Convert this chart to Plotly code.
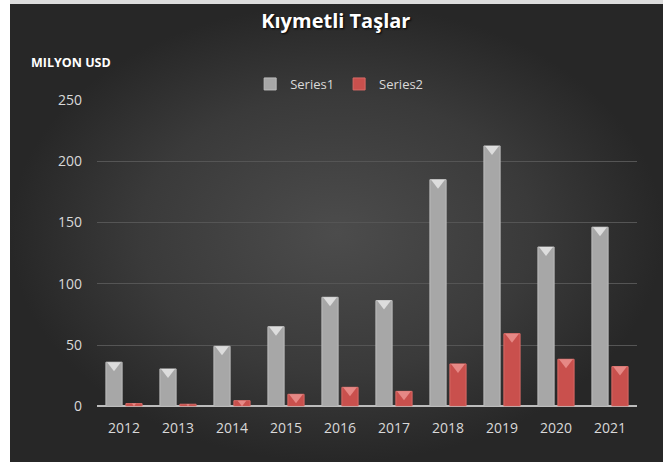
import plotly.graph_objects as go

# 数据
years = ['2012', '2013', '2014', '2015', '2016', '2017', '2018', '2019', '2020', '2021']
series1 = [36, 30.5, 49, 65, 89, 86.3, 185, 212.5, 130, 146.2]
series2 = [2.2, 1.7, 4.6, 9.8, 15.5, 12.2, 34.6, 59.3, 38.4, 32.4]

W, H = 665, 462
PX_PER_UNIT = (406.3 - 100) / 250  # 像素/数值单位
xs = list(range(len(years)))

fig = go.Figure()

# 背景：径向渐变（放在 xy 子图，条形放在 x2y2 上面）
fig.add_trace(go.Scatter(
    x=[10, 663, 663, 10, 10], y=[0, 0, 458, 458, 0],
    mode='lines', fill='toself', line=dict(width=0),
    fillcolor='#333333',
    fillgradient=dict(type='radial',
                      colorscale=[[0, '#4c4c4c'], [0.6, '#3a3a3a'], [1, '#272727']]),
    hoverinfo='skip', showlegend=False, xaxis='x', yaxis='y'
))

bw = 0.3
off = 0.185

fig.add_trace(go.Bar(
    x=[i - off for i in xs], y=series1, width=bw, name='Series1',
    marker=dict(color='#a7a7a7', line=dict(color='#bdbdbd', width=1)),
    xaxis='x2', yaxis='y2'
))
fig.add_trace(go.Bar(
    x=[i + off for i in xs], y=series2, width=bw, name='Series2',
    marker=dict(color='#c9504d', line=dict(color='#d86a66', width=1)),
    xaxis='x2', yaxis='y2'
))


# 顶部斜面三角
def bevel(vals):
    sizes = [min(12, v * PX_PER_UNIT / 0.75) for v in vals]
    ys = [v - (s / 4) / PX_PER_UNIT for v, s in zip(vals, sizes)]
    return ys, sizes


y1, s1 = bevel(series1)
y2, s2 = bevel(series2)
fig.add_trace(go.Scatter(
    x=[i - off for i in xs], y=y1, mode='markers',
    marker=dict(symbol='triangle-down', size=s1, color='#f4f4f4', line=dict(width=0)),
    hoverinfo='skip', showlegend=False, cliponaxis=False, xaxis='x2', yaxis='y2'
))
fig.add_trace(go.Scatter(
    x=[i + off for i in xs], y=y2, mode='markers',
    marker=dict(symbol='triangle-down', size=s2, color='#f2a09c', line=dict(width=0)),
    hoverinfo='skip', showlegend=False, cliponaxis=False, xaxis='x2', yaxis='y2'
))

fig.update_layout(
    width=W, height=H,
    margin=dict(l=0, r=0, t=0, b=0, autoexpand=False),
    paper_bgcolor='white',
    plot_bgcolor='rgba(0,0,0,0)',
    font=dict(family='Open Sans', color='#d9d9d9'),
    barmode='overlay',
    xaxis=dict(domain=[0, 1], range=[0, W], visible=False, fixedrange=True),
    yaxis=dict(domain=[0, 1], range=[0, H], visible=False, fixedrange=True),
    xaxis2=dict(domain=[97 / W, 637 / W], range=[-0.5, len(years) - 0.5],
                anchor='y2', tickvals=xs, ticktext=years, showgrid=False,
                zeroline=False, ticks='', ticklabelstandoff=12, automargin=False,
                tickfont=dict(size=14, color='#d9d9d9')),
    yaxis2=dict(domain=[(H - 406.3) / H, (H - 100) / H], range=[0, 250],
                anchor='x2', tickvals=[0, 50, 100, 150, 200, 250],
                gridcolor='#555555', gridwidth=1,
                zeroline=True, zerolinecolor='#bcbcbc', zerolinewidth=2,
                ticks='', ticklabelstandoff=14, automargin=False,
                tickfont=dict(size=14, color='#d9d9d9')),
    legend=dict(orientation='h', x=0.51, xanchor='center', y=1 - 84 / H,
                yanchor='middle', font=dict(size=13, color='#d9d9d9'),
                bgcolor='rgba(0,0,0,0)', itemwidth=30),
    title=dict(text='<b>Kıymetli Taşlar</b>', x=0.505, xanchor='center',
               y=1 - 21 / H, yanchor='middle',
               font=dict(size=20, color='white', shadow='1px 1px 2px #000')),
    annotations=[dict(text='<b>MILYON USD</b>', xref='paper', yref='paper',
                      x=29 / W, xanchor='left', y=1 - 63 / H, yanchor='middle',
                      showarrow=False, font=dict(size=12.5, color='white'))],
    shapes=[dict(type='rect', xref='paper', yref='paper', x0=10 / W, x1=663 / W,
                 y0=1 - 4 / H, y1=1, fillcolor='#dcdcdc', line=dict(width=0),
                 layer='above')],
)

# 去掉页面默认边距，避免整体偏移
fig.write_html("out.html", config={'displayModeBar': False},
               post_script="document.body.style.margin='0';")
